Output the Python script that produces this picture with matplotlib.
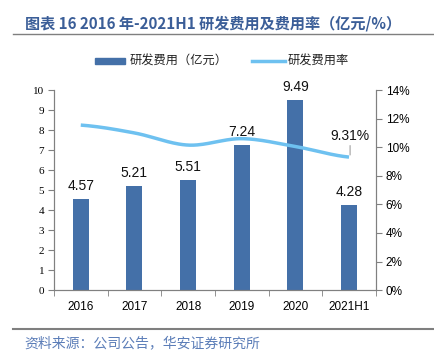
import numpy as np
import matplotlib.pyplot as plt
from matplotlib.lines import Line2D
from matplotlib.patches import Rectangle

plt.rcParams['font.family'] = ['Noto Sans CJK SC', 'DejaVu Sans']

years = ['2016', '2017', '2018', '2019', '2020', '2021H1']
rd_cost = [4.57, 5.21, 5.51, 7.24, 9.49, 4.28]          # 亿元
rd_rate = [11.55, 11.0, 10.15, 10.6, 10.05, 9.31]       # %

bar_color = '#4470A8'
line_color = '#6EC1F0'
title_color = '#3B5E98'
axis_color = '#808080'


def smooth(xs, ys, n=30):
    # Catmull-Rom style smoothing for drawing only
    xs = np.asarray(xs, float)
    ys = np.asarray(ys, float)
    px, py = [], []
    for i in range(len(xs) - 1):
        y0 = ys[i - 1] if i > 0 else ys[i]
        y3 = ys[i + 2] if i + 2 < len(ys) else ys[i + 1]
        m1 = (ys[i + 1] - y0) / 2
        m2 = (y3 - ys[i]) / 2
        t = np.linspace(0, 1, n)
        h00 = 2 * t**3 - 3 * t**2 + 1
        h10 = t**3 - 2 * t**2 + t
        h01 = -2 * t**3 + 3 * t**2
        h11 = t**3 - t**2
        px.extend(xs[i] + t * (xs[i + 1] - xs[i]))
        py.extend(h00 * ys[i] + h10 * m1 + h01 * ys[i + 1] + h11 * m2)
    return np.array(px), np.array(py)


fig = plt.figure(figsize=(4.35, 3.56), dpi=100)
ax = fig.add_axes([0.124, 0.185, 0.74, 0.562])
x = np.arange(len(years))

ax.bar(x, rd_cost, width=0.3, color=bar_color, zorder=2)
for xi, v in zip(x, rd_cost):
    ax.text(xi, v + 0.3, '%.2f' % v, ha='center', va='bottom',
            fontsize=10, family='Liberation Sans', color='#111111')

ax.set_xlim(-0.5, len(years) - 0.5)
ax.set_ylim(0, 10)
ax.set_yticks(range(0, 11))
ax.set_yticklabels([str(i) for i in range(0, 11)], family='Liberation Serif', fontsize=8)
ax.set_xticks(x)
ax.set_xticklabels(years, family='Liberation Sans', fontsize=8.5)
ax.tick_params(axis='x', length=0, pad=8)
ax.set_xticks(np.arange(-0.5, len(years)), minor=True)
ax.tick_params(axis='x', which='minor', length=4, color=axis_color, direction='out')
ax.tick_params(axis='y', length=4, color=axis_color, pad=3)
for s in ['top']:
    ax.spines[s].set_visible(False)
for s in ['left', 'bottom', 'right']:
    ax.spines[s].set_color(axis_color)

ax2 = ax.twinx()
sx, sy = smooth(x, rd_rate)
ax2.plot(sx, sy, color=line_color, lw=2.5, solid_capstyle='butt', zorder=3)
ax2.set_ylim(0, 14)
ax2.set_yticks(range(0, 15, 2))
ax2.set_yticklabels(['%d%%' % i for i in range(0, 15, 2)], family='Liberation Sans', fontsize=8.5)
ax2.tick_params(axis='y', length=4, color=axis_color, pad=3)
ax2.spines['top'].set_visible(False)
for s in ['left', 'bottom', 'right']:
    ax2.spines[s].set_color(axis_color)

ax2.annotate('%.2f%%' % rd_rate[-1], xy=(x[-1] + 0.02, rd_rate[-1] + 0.15),
             xytext=(x[-1] + 0.02, rd_rate[-1] + 1.0),
             ha='center', va='bottom', fontsize=10, family='Liberation Sans', color='#111111',
             arrowprops=dict(arrowstyle='-', color='#A0A0A0', lw=0.8, shrinkA=0, shrinkB=0))

# title & header line
fig.text(0.057, 0.935, '图表 16 2016 年-2021H1 研发费用及费用率（亿元/%）', fontsize=10.9,
         fontweight='bold', color=title_color, va='center', ha='left')
fig.add_artist(Line2D([0.03, 1.0], [0.905, 0.905], color='#7F7F7F', lw=1.0))

# legend
fig.add_artist(Rectangle((0.218, 0.820), 0.07, 0.016, color=bar_color))
fig.text(0.298, 0.828, '研发费用（亿元）', fontsize=8.8, va='center', color='#222222')
fig.add_artist(Line2D([0.58, 0.655], [0.828, 0.828], color=line_color, lw=2.5))
fig.text(0.662, 0.828, '研发费用率', fontsize=8.8, va='center', color='#222222')

# source
fig.add_artist(Line2D([0.03, 1.0], [0.075, 0.075], color='#7F7F7F', lw=1.5))
fig.text(0.057, 0.035, '资料来源：公司公告，华安证券研究所', fontsize=10,
         color='#5B7DB8', va='center', ha='left')

fig.savefig('out.png', dpi=100)
